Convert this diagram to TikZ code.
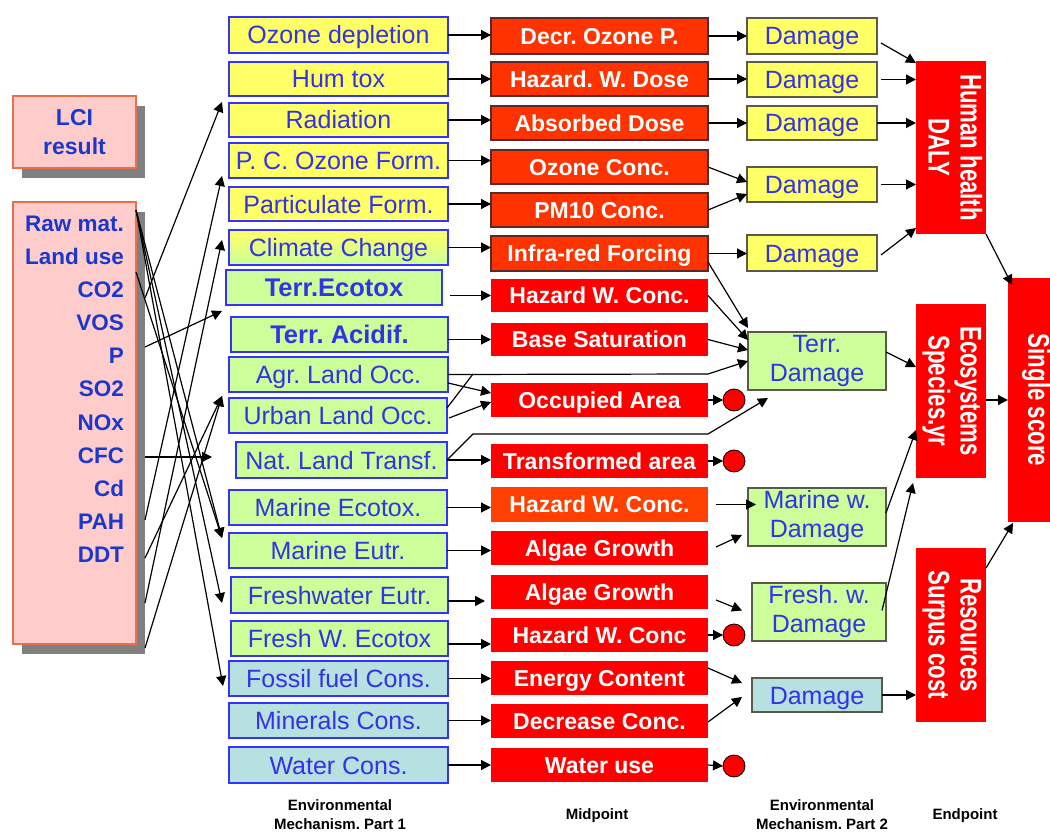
\documentclass[tikz,border=0pt]{standalone}
\usepackage{fontspec}
\usepackage{graphicx}
\setmainfont{Liberation Sans}
\newfontfamily\narrowf[FakeStretch=0.74]{Liberation Sans}
\usetikzlibrary{arrows.meta,shadows}
\definecolor{yel}{HTML}{FFFF66}
\definecolor{grn}{HTML}{CCFF99}
\definecolor{tealc}{HTML}{B7E0E0}
\definecolor{bluB}{HTML}{3333FF}
\definecolor{bluT}{HTML}{3232E6}
\definecolor{lciT}{HTML}{1C38CC}
\definecolor{ored}{HTML}{FF3300}
\definecolor{oredB}{HTML}{5A2A2A}
\definecolor{mred}{HTML}{FF4000}
\definecolor{red1}{HTML}{FF0000}
\definecolor{pink1}{HTML}{FFCCCC}
\definecolor{pinkB}{HTML}{E8704A}
\definecolor{dmgB}{HTML}{5A5A4A}
\newcommand\fsz[2]{\fontsize{#1}{#2}\selectfont}
\newcommand\mkbox[7]{\node[#1,anchor=north west,minimum width=#5pt,minimum height=#6pt] (#2) at (#3,#4) {#7};}
\newcommand\twoln[2]{\begin{tabular}{@{}c@{}}#1\\#2\end{tabular}}
\frenchspacing
\begin{document}
\frenchspacing
\begin{tikzpicture}[x=1pt,y=-1pt,
  every node/.style={inner sep=0pt,outer sep=0pt},
  env/.style={draw=bluB,line width=2pt,text=bluT,font=\fsz{25}{28},text height=18pt,text depth=0pt},
  envY/.style={env,fill=yel},
  envG/.style={env,fill=grn},
  envT/.style={env,fill=tealc},
  envC/.style={env,top color=yel,bottom color=grn},
  envbig/.style={font=\bfseries\fsz{25.5}{28},text height=18pt},
  midO/.style={fill=ored,draw=oredB,line width=1.2pt,text=white,font=\bfseries\fsz{23}{28},text height=16.5pt,text depth=0pt},
  midR/.style={midO,draw=none,fill=red1},
  midM/.style={midO,draw=none,fill=mred},
  dmg/.style={draw=dmgB,line width=1.3pt,text=bluT,font=\fsz{25}{29}},
  dmg1/.style={text height=18pt,text depth=0pt},
  dmgY/.style={dmg,dmg1,fill=yel},
  dmgG/.style={dmg,fill=grn},
  dmgT/.style={dmg,dmg1,fill=tealc},
  endp/.style={fill=red1,text=white,font=\narrowf\bfseries\fsz{30}{32}},
  dot/.style={circle,fill=red1,draw=black,line width=0.8pt,minimum size=22pt},
  lcib/.style={fill=pink1,draw=pinkB,line width=1.3pt,text=lciT,font=\bfseries\fsz{23}{29},align=center,
    drop shadow={shadow xshift=9pt,shadow yshift=-10pt,fill=black!50,opacity=1}},
  invtext/.style={text=lciT,font=\bfseries\fsz{22.5}{33.1},align=right},
  arr/.style={-{Triangle[length=10pt,width=10pt]},line width=1.2pt},
  ln/.style={line width=1.2pt},
  caption/.style={font=\bfseries\fsz{15}{19},align=center}
]
\path[use as bounding box,fill=white] (0,0) rectangle (1050,832);

% LCI boxes
\mkbox{lcib}{lci}{13}{96}{123}{72}{LCI\\result}
\mkbox{lcib}{inv}{13}{202}{123}{442}{}
\node[invtext,anchor=north east] (invt) at (124,216) {Raw mat.\\Land use\\CO2\\VOS\\P\\SO2\\NOx\\CFC\\Cd\\PAH\\DDT};

% Environmental mechanism part 1
\mkbox{envY}{c1}{229}{17}{219}{36}{Ozone depletion}
\mkbox{envY}{c2}{229}{62}{219}{34}{Hum tox}
\mkbox{envY}{c3}{229}{103}{219}{34}{Radiation}
\mkbox{envY}{c4}{229}{143}{219}{35}{P. C. Ozone Form.}
\mkbox{envY}{c5}{229}{187}{219}{34}{Particulate Form.}
\mkbox{envC}{c6}{229}{230}{219}{35}{Climate Change}
\mkbox{envG,envbig}{c7}{226}{270}{216}{35}{Terr.Ecotox}
\mkbox{envG,envbig}{c8}{231}{317}{217}{35}{Terr. Acidif.}
\mkbox{envG}{c9}{229}{357}{219}{35}{Agr. Land Occ.}
\mkbox{envG}{c10}{229}{398}{218}{35}{Urban Land Occ.}
\mkbox{envG}{c11}{236}{442}{211}{36}{Nat. Land Transf.}
\mkbox{envG}{c12}{229}{490}{218}{35}{Marine Ecotox.}
\mkbox{envG}{c13}{229}{533}{218}{35}{Marine Eutr.}
\mkbox{envG}{c14}{231}{577}{217}{36}{Freshwater Eutr.}
\mkbox{envG}{c15}{231}{621}{217}{35}{Fresh W. Ecotox}
\mkbox{envT}{c16}{229}{661}{219}{35}{Fossil fuel Cons.}
\mkbox{envT}{c17}{229}{703}{219}{35}{Minerals Cons.}
\mkbox{envT}{c18}{229}{747}{219}{36}{Water Cons.}

% Midpoints
\mkbox{midO}{m1}{491}{18}{217}{36}{Decr. Ozone P.}
\mkbox{midO}{m2}{491}{62}{217}{34}{Hazard. W. Dose}
\mkbox{midO}{m3}{491}{106}{217}{34}{Absorbed Dose}
\mkbox{midO}{m4}{491}{150}{217}{34}{Ozone Conc.}
\mkbox{midO}{m5}{491}{193}{217}{34}{PM10 Conc.}
\mkbox{midO}{m6}{491}{236}{217}{35}{Infra-red Forcing}
\mkbox{midR}{m7}{491}{279}{217}{33}{Hazard W. Conc.}
\mkbox{midR}{m8}{491}{323}{217}{33}{Base Saturation}
\mkbox{midR}{m9}{491}{383}{217}{34}{Occupied Area}
\mkbox{midR}{m10}{491}{444}{217}{34}{Transformed area}
\mkbox{midM}{m11}{491}{487}{217}{35}{Hazard W. Conc.}
\mkbox{midR}{m12}{491}{531}{217}{34}{Algae Growth}
\mkbox{midR}{m13}{491}{575}{217}{34}{Algae Growth}
\mkbox{midR}{m14}{491}{618}{217}{34}{Hazard W. Conc}
\mkbox{midR}{m15}{491}{661}{217}{34}{Energy Content}
\mkbox{midR}{m16}{491}{704}{217}{34}{Decrease Conc.}
\mkbox{midR}{m17}{491}{748}{217}{34}{Water use}

% Environmental mechanism part 2
\mkbox{dmgY}{d1}{747}{18}{130}{36}{Damage}
\mkbox{dmgY}{d2}{747}{62}{130}{35}{Damage}
\mkbox{dmgY}{d3}{747}{106}{130}{34}{Damage}
\mkbox{dmgY}{d4}{747}{167}{130}{35}{Damage}
\mkbox{dmgY}{d5}{747}{235}{130}{36}{Damage}
\mkbox{dmgG}{td}{748}{332}{138}{52}{\twoln{Terr.}{Damage}}
\mkbox{dmgG}{mw}{748}{488}{138}{52}{\twoln{Marine w.}{Damage}}
\mkbox{dmgG}{fw}{752}{583}{134}{53}{\twoln{Fresh. w.}{Damage}}
\mkbox{dmgT}{rd}{752}{678}{130}{34}{Damage}

% Endpoints
\mkbox{endp}{hh}{916}{61}{70}{173}{\rotatebox{-90}{\twoln{Human health}{DALY}}}
\mkbox{endp}{eco}{916}{304}{70}{174}{\rotatebox{-90}{\twoln{Ecosystems}{Species.yr}}}
\mkbox{endp}{res}{916}{548}{70}{174}{\rotatebox{-90}{\twoln{Resources}{Surpus cost}}}
\mkbox{endp}{ss}{1008}{278}{56}{244}{\rotatebox{-90}{Single score}}

% end dots
\node[dot] (o1) at (734,400) {};
\node[dot] (o2) at (734,461) {};
\node[dot] (o3) at (734,635) {};
\node[dot] (o4) at (734,766) {};

% named free ends
\coordinate (sRaw) at (136,210);
\coordinate (sLand) at (136,272);
\coordinate (sCO2) at (145,298);
\coordinate (sP) at (145,347);
\coordinate (sCFC) at (145,457);
\coordinate (sPAH) at (145,520);
\coordinate (sDDT) at (145,558);
\coordinate (sX1) at (145,603);
\coordinate (sX2) at (145,648);
\coordinate (tHum) at (222,102);
\coordinate (tPC) at (222,176);
\coordinate (tCC) at (222,240);
\coordinate (tAc) at (222,311);
\coordinate (tAgr) at (222,396);
\coordinate (tNat) at (212,457);
\coordinate (tMar) at (222,538);
\coordinate (tFre) at (222,603);
\coordinate (tFos) at (223,686);
\coordinate (jU) at (473,374);
\coordinate (jA) at (708,374);
\coordinate (jN1) at (473,434);
\coordinate (jN2) at (708,434);

% inventory -> mechanisms
\draw[arr] (sCO2) -- (tHum);
\draw[arr] (sPAH) -- (tPC);
\draw[arr] (sX1) -- (tCC);
\draw[arr] (sP) -- (tAc);
\draw[arr] (sDDT) -- (tAgr);
\draw[arr] (sX2) -- (tAgr);
\draw[arr] (sCFC) -- (tNat);
\draw[arr] (sRaw) -- (tMar);
\draw[arr] (sRaw) -- (tFre);
\draw[arr] (sRaw) -- (tFos);
\draw[arr] (sLand) -- (tMar);

% part 1 -> midpoints
\draw[arr] (c1.east) -- (c1.east -| m1.west);
\draw[arr] (c2.east) -- (c2.east -| m2.west);
\draw[arr] (c3.east) -- (c3.east -| m3.west);
\draw[arr] (c4.east) -- (c4.east -| m4.west);
\draw[arr] (c5.east) -- (c5.east -| m5.west);
\draw[arr] (c6.east) -- (c6.east -| m6.west);
\draw[arr] ([xshift=8pt]c7.east |- m7.west) -- (m7.west);
\draw[arr] (c8.east |- m8.west) -- (m8.west);
\draw[arr] ([yshift=-8.5pt]c9.east) -- ([yshift=7pt]m9.west);
\draw[arr] ([xshift=2pt,yshift=-2.5pt]c10.east) -- ([yshift=-2pt]m9.west);
\draw[arr] (c11.east) -- (c11.east -| m10.west);
\draw[arr] (c12.east) -- (c12.east -| m11.west);
\draw[arr] (c13.east) -- (c13.east -| m12.west);
\draw[arr] ([yshift=-6pt]c14.east) -- ([yshift=-6pt,xshift=-6pt]c14.east -| m13.west);
\draw[arr] ([yshift=-5.5pt]c15.east) -- ([yshift=-5.5pt]c15.east -| m14.west);
\draw[arr] (c16.east) -- (c16.east -| m15.west);
\draw[arr] (c17.east) -- (c17.east -| m16.west);
\draw[arr] (c18.east) -- (c18.east -| m17.west);

% land use routes to Terr. Damage
\draw[ln] ([yshift=7.5pt]c10.east) -- (jU);
\draw[arr] (c9.east) -- (jA) -- (td.west);
\draw[arr] (c11.east) -- (jN1) -- (jN2) -- ([xshift=20pt,yshift=-8pt]td.south west);

% midpoints -> part 2
\draw[arr] (m1.east) -- (m1.east -| d1.west);
\draw[arr] (m2.east) -- (m2.east -| d2.west);
\draw[arr] (m3.east) -- (m3.east -| d3.west);
\draw[arr] (m4.east) -- ([yshift=2.5pt]d4.west);
\draw[arr] (m5.east) -- ([yshift=-9.5pt]d4.west);
\draw[arr] (m6.east) -- (m6.east -| d5.west);
\draw[arr] ([yshift=-8.5pt]m6.east) -- ([yshift=33pt]td.west);
\draw[arr] (m7.east) -- ([yshift=21pt]td.west);
\draw[arr] (m8.east) -- ([yshift=11pt]td.west);
\draw[arr] ([xshift=8pt]m11.east) -- ([xshift=8pt]m11.east -| mw.west);
\draw[arr] ([xshift=8pt,yshift=1pt]m12.east) -- ([xshift=-6pt,yshift=-18pt]mw.west);
\draw[arr] ([xshift=8pt,yshift=-8pt]m13.east) -- ([xshift=-10pt,yshift=1.5pt]fw.west);
\draw[arr] ([yshift=10pt]m15.east) -- ([xshift=-10pt,yshift=12pt]rd.west);
\draw[arr] ([yshift=-1pt]m16.east) -- ([xshift=-10pt,yshift=-2pt]rd.west);
\draw[arr] (m9.east) -- (o1.west);
\draw[arr] (m10.east) -- (o2.west);
\draw[arr] (m14.east) -- (o3.west);
\draw[arr] (m17.east) -- (o4.west);

% part 2 -> endpoints
\draw[arr] ([xshift=4pt,yshift=-7pt]d1.east) -- ([yshift=84.5pt]hh.west);
\draw[arr] ([xshift=4pt]d2.east) -- (d2.east -| hh.west);
\draw[arr] (d3.east) -- (d3.east -| hh.west);
\draw[arr] ([xshift=4pt]d4.east) -- (d4.east -| hh.west);
\draw[arr] ([xshift=4pt,yshift=-2pt]d5.east) -- ([yshift=6pt]hh.south west);
\draw[arr] ([yshift=9pt]td.east) -- ([yshift=24pt]eco.west);
\draw[arr] ([yshift=4pt]mw.east) -- ([yshift=-39pt]eco.west);
\draw[arr] ([xshift=-4pt,yshift=1.5pt]fw.east) -- ([xshift=-3pt,yshift=-92pt]eco.west);
\draw[arr] (rd.east) -- (rd.east -| res.west);

% endpoints -> single score
\draw[arr] (hh.south east) -- ([xshift=4pt,yshift=-7pt]ss.north west);
\draw[arr] (eco.east |- ss.west) -- (ss.west);
\draw[arr] ([yshift=-20pt]res.north east) -- ([xshift=5pt,yshift=-1pt]ss.south west);

% column captions
\node[caption] (l1) at (340,815) {Environmental\\Mechanism. Part 1};
\node[caption] (l2) at (597,816) {Midpoint};
\node[caption] (l3) at (822,815) {Environmental\\Mechanism. Part 2};
\node[caption] (l4) at (965,816) {Endpoint};
\end{tikzpicture}
\end{document}
